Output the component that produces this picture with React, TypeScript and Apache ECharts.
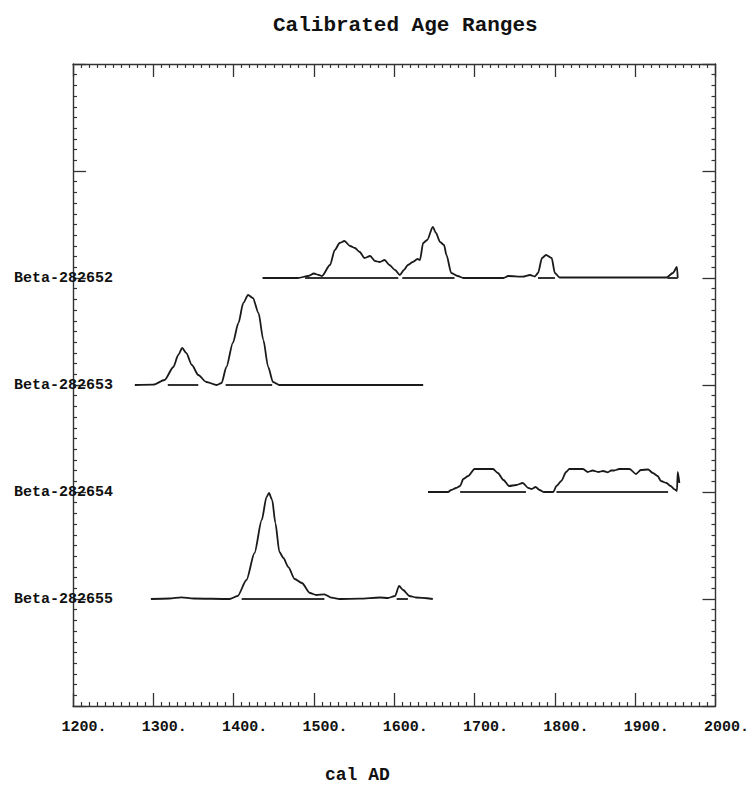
import React, { useEffect, useRef } from "react";
import * as echarts from "echarts";

// Sample names, top to bottom, and their row positions on the y axis
const SAMPLES = ["Beta-282652", "Beta-282653", "Beta-282654", "Beta-282655"];
const ROWS = [4, 3, 2, 1];

// Relative probability (row spacing = 107) by calendar year
const YEARS_652 = [1436, 1480, 1493, 1500, 1506, 1510, 1520, 1526, 1532, 1538, 1545, 1551, 1557, 1563, 1570, 1576, 1582, 1588, 1594, 1601, 1607, 1612, 1617, 1623, 1629, 1632, 1636, 1641, 1648, 1652, 1657, 1662, 1665, 1671, 1679, 1686, 1736, 1742, 1760, 1769, 1775, 1779, 1784, 1789, 1796, 1800, 1806, 1939, 1947, 1952, 1953];
const DENS_652 = [0, 0, 2, 4.5, 3, 2, 13, 28, 35, 37, 32, 30, 26, 20, 22, 17, 16, 18, 13, 8, 3, 8, 13, 16, 19, 18, 35, 38, 51, 45, 36, 33, 23, 5, 2, 0, 0, 2, 1.3, 3, 1.5, 5, 20, 23, 20, 5, 0.5, 0.5, 5, 11, 0];
const RANGES_652 = [[1489, 1605], [1610, 1675], [1779, 1800], [1940, 1953]];

const YEARS_653 = [1277, 1300, 1314, 1325, 1331, 1336, 1341, 1348, 1356, 1366, 1379, 1385, 1391, 1399, 1406, 1412, 1418, 1424, 1431, 1437, 1443, 1449, 1457, 1636];
const DENS_653 = [0, 0.3, 5, 18, 30, 37, 32, 20, 10, 3, 0, 2, 18, 42, 62, 82, 90, 87, 72, 45, 18, 3, 0, 0];
const RANGES_653 = [[1318, 1356], [1390, 1448]];

const YEARS_654 = [1642, 1667, 1671, 1677, 1682, 1686, 1692, 1700, 1723, 1729, 1736, 1743, 1752, 1760, 1767, 1771, 1776, 1781, 1786, 1798, 1802, 1808, 1814, 1818, 1835, 1841, 1847, 1854, 1860, 1866, 1870, 1874, 1880, 1893, 1901, 1907, 1916, 1922, 1928, 1932, 1939, 1944, 1949, 1952, 1953, 1955];
const DENS_654 = [0, 0, 2, 4, 6, 13, 16, 23, 23, 19, 12, 6, 7, 9, 4, 3, 5, 2, 0, 0, 6, 11, 20, 23, 23, 20, 21.5, 20, 21, 19.7, 21.5, 21.5, 23, 23, 18, 22, 22.5, 19, 16, 11, 9, 6, 2.7, 1, 20, 9];
const RANGES_654 = [[1682, 1764], [1802, 1941]];

const YEARS_655 = [1297, 1320, 1335, 1350, 1395, 1405, 1416, 1426, 1435, 1441, 1444, 1448, 1452, 1457, 1462, 1468, 1476, 1485, 1495, 1503, 1513, 1522, 1532, 1557, 1582, 1592, 1601, 1606, 1611, 1619, 1627, 1648];
const DENS_655 = [0, 0.5, 1.7, 0.5, 0, 3, 19, 46, 79, 102, 106, 99, 76, 47, 41, 32, 20, 16, 6, 4, 4.7, 1.3, 0, 0.3, 1.5, 1, 3, 13, 9, 3, 1.5, 0];
const RANGES_655 = [[1410, 1513], [1603, 1617]];

const ROW_SPACING = 107;

const X_MIN = 1200;
const X_MAX = 2000;
const X_STEP = 100;
const Y_MIN = 0;
const Y_MAX = 6;

const TITLE = "Calibrated Age Ranges";
const X_NAME = "cal AD";

const FONT = '"Courier New", "Liberation Mono", monospace';

export default function App() {
  const ref = useRef<HTMLDivElement>(null);
  useEffect(() => {
    if (!ref.current) return;
    const chart = echarts.init(ref.current, undefined, { renderer: "svg" });
    const curves = [
      [YEARS_652, DENS_652, RANGES_652],
      [YEARS_653, DENS_653, RANGES_653],
      [YEARS_654, DENS_654, RANGES_654],
      [YEARS_655, DENS_655, RANGES_655],
    ] as const;

    const series: any[] = curves.map(([years, dens, ranges], i) => {
      const base = ROWS[i];
      return {
        type: "line",
        name: SAMPLES[i],
        data: years.map((y, k) => [y, base + dens[k] / ROW_SPACING]),
        showSymbol: false,
        symbol: "none",
        smooth: 0.25,
        smoothMonotone: "x",
        lineStyle: { color: "#1a1a1a", width: 1.8 },
        silent: true,
        markLine: {
          silent: true,
          symbol: "none",
          label: { show: false },
          emphasis: { disabled: true },
          lineStyle: { color: "#333", width: 2, type: "solid", opacity: 1 },
          data: (ranges as number[][]).map((r) => [
            { coord: [r[0], base] },
            { coord: [r[1], base] },
          ]),
        },
      };
    });

    const frameLine = { show: true, onZero: false, lineStyle: { color: "#333", width: 1.4 } };
    const tick = { show: true, inside: true, length: 13, lineStyle: { color: "#333", width: 1.3 } };
    const minor = { show: true, splitNumber: 10, length: 4, lineStyle: { color: "#333", width: 1.2 } };

    chart.setOption({
      animation: false,
      backgroundColor: "#fff",
      title: [
        {
          text: TITLE,
          left: 268,
          top: 10,
          textStyle: { fontFamily: FONT, fontWeight: "bold", fontSize: 21, color: "#111" },
        },
        {
          text: X_NAME,
          left: 320,
          top: 761,
          textStyle: { fontFamily: FONT, fontWeight: "bold", fontSize: 18, color: "#111" },
        },
      ],
      grid: { left: 73, right: 36, top: 64, bottom: 79 },
      xAxis: [
        {
          type: "value",
          min: X_MIN,
          max: X_MAX,
          interval: X_STEP,
          position: "bottom",
          axisLine: frameLine,
          axisTick: tick,
          minorTick: minor,
          splitLine: { show: false },
          axisLabel: {
            show: true,
            formatter: (v: number) => `${v}.`,
            fontFamily: FONT,
            fontWeight: "bold",
            fontSize: 15,
            color: "#111",
            margin: 14,
            padding: [0, 0, 0, 22],
          },
        },
        {
          type: "value",
          min: X_MIN,
          max: X_MAX,
          interval: X_STEP,
          position: "top",
          axisLine: frameLine,
          axisTick: tick,
          minorTick: minor,
          splitLine: { show: false },
          axisLabel: { show: false },
        },
      ],
      yAxis: [
        {
          type: "value",
          min: Y_MIN,
          max: Y_MAX,
          interval: 1,
          position: "left",
          axisLine: frameLine,
          axisTick: tick,
          minorTick: minor,
          splitLine: { show: false },
          axisLabel: {
            show: true,
            formatter: (v: number) => {
              const idx = ROWS.indexOf(v);
              return idx >= 0 ? SAMPLES[idx] : "";
            },
            fontFamily: FONT,
            fontWeight: "bold",
            fontSize: 15,
            color: "#111",
            margin: -40,
          },
        },
        {
          type: "value",
          min: Y_MIN,
          max: Y_MAX,
          interval: 1,
          position: "right",
          axisLine: frameLine,
          axisTick: tick,
          minorTick: minor,
          splitLine: { show: false },
          axisLabel: { show: false },
        },
      ],
      series,
    });
    return () => chart.dispose();
  }, []);
  return (
    <div
      ref={ref}
      style={{ position: "fixed", left: 0, top: 0, width: 752, height: 785, background: "#fff" }}
    />
  );
}
